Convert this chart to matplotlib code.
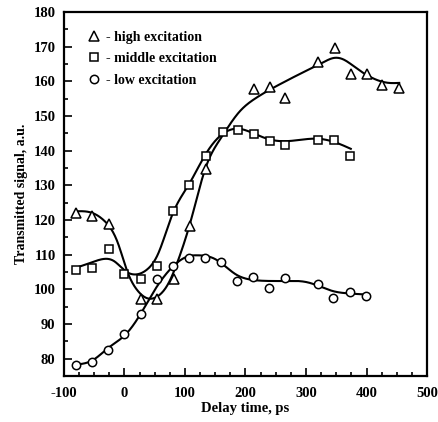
import numpy as np
import matplotlib
matplotlib.use("Agg")
import matplotlib.pyplot as plt
from matplotlib.ticker import MultipleLocator

# measured points
hi_x = [-80, -53, -26, 27, 53, 82, 108, 134, 214, 240, 266, 320, 348, 374, 400, 426, 453]
hi_y = [122.1, 121.2, 118.9, 97.3, 97.1, 103.0, 118.3, 134.7, 157.7, 158.3, 155.2,
        165.6, 169.5, 162.2, 162.0, 159.0, 157.9]

mid_x = [-80, -53, -26, 0, 28, 53, 80, 107, 134, 162, 188, 214, 240, 266, 320, 346, 373]
mid_y = [105.7, 106.2, 111.6, 104.3, 103.1, 106.6, 122.6, 130.2, 138.4, 145.4, 145.8,
         144.8, 142.8, 141.7, 142.9, 143.0, 138.4]

low_x = [-80, -53, -27, 0, 27, 53, 80, 107, 133, 160, 186, 213, 239, 266, 319, 345, 373, 399]
low_y = [78.1, 79.1, 82.5, 87.0, 92.8, 103.0, 106.8, 109.1, 109.0, 108.0, 102.5, 103.6,
         100.3, 103.2, 101.4, 97.5, 99.2, 98.1]

# guide curves
hi_cx = [-80, -53, -33, -11, 5, 20, 38, 55, 72, 90, 110, 134, 159, 189, 216,
         261, 305, 327, 346, 360, 382, 415, 437, 454]
hi_cy = [122.5, 122.0, 119.7, 113.4, 105.0, 100.0, 97.4, 98.0, 101.5, 109.0, 120.0,
         135.0, 143.5, 151.0, 155.0, 159.5, 163.4, 165.3, 166.7, 166.4, 163.9,
         160.5, 159.5, 159.5]

mid_cx = [-80, -55, -39, -17, 2, 20, 38, 55, 79, 107, 134, 160, 187, 214, 240,
          266, 320, 346, 374]
mid_cy = [106.2, 107.7, 108.6, 108.1, 105.2, 104.3, 105.8, 110.0, 121.5, 130.4,
          138.9, 144.5, 146.3, 144.9, 143.2, 142.7, 143.4, 142.5, 140.5]

low_cx = [-80, -53, -26, 2, 27, 50, 82, 107, 120, 151, 184, 212, 239, 266, 300,
          322, 344, 371, 399]
low_cy = [78.3, 79.5, 83.2, 87.0, 93.0, 99.8, 106.9, 109.6, 109.8, 108.6, 104.3,
          102.7, 102.4, 102.4, 102.1, 100.9, 99.5, 98.8, 98.5]


def smooth_line(xk, yk, n=500):
    # natural cubic spline through the read-off knots, only for drawing
    xk = np.asarray(xk, float)
    yk = np.asarray(yk, float)
    k = len(xk)
    h = np.diff(xk)
    A = np.zeros((k, k))
    b = np.zeros(k)
    A[0, 0] = A[-1, -1] = 1
    for i in range(1, k - 1):
        A[i, i - 1] = h[i - 1]
        A[i, i] = 2 * (h[i - 1] + h[i])
        A[i, i + 1] = h[i]
        b[i] = 6 * ((yk[i + 1] - yk[i]) / h[i] - (yk[i] - yk[i - 1]) / h[i - 1])
    M = np.linalg.solve(A, b)
    xs = np.linspace(xk[0], xk[-1], n)
    j = np.clip(np.searchsorted(xk, xs) - 1, 0, k - 2)
    a = xk[j + 1] - xs
    c = xs - xk[j]
    hj = h[j]
    ys = (M[j] * a**3 / (6 * hj) + M[j + 1] * c**3 / (6 * hj)
          + (yk[j] / hj - M[j] * hj / 6) * a + (yk[j + 1] / hj - M[j + 1] * hj / 6) * c)
    return xs, ys


plt.rcParams["font.family"] = "Liberation Serif"
plt.rcParams["font.weight"] = "bold"
plt.rcParams["axes.unicode_minus"] = False

fig = plt.figure(figsize=(4.38, 4.22), dpi=100)
ax = fig.add_axes([0.146, 0.109, 0.829, 0.863])

for cx, cy in [(hi_cx, hi_cy), (mid_cx, mid_cy), (low_cx, low_cy)]:
    xs, ys = smooth_line(cx, cy)
    ax.plot(xs, ys, color="black", lw=1.5)

mk = dict(linestyle="none", mfc="white", mec="black", mew=1.1, color="black")
ax.plot(hi_x, hi_y, marker="^", ms=6.5, label="- high excitation", **mk)
ax.plot(mid_x, mid_y, marker="s", ms=5.2, label="- middle excitation", **mk)
ax.plot(low_x, low_y, marker="o", ms=6, label="- low excitation", **mk)

ax.set_xlim(-100, 500)
ax.set_ylim(75, 180)
ax.xaxis.set_major_locator(MultipleLocator(100))
ax.xaxis.set_minor_locator(MultipleLocator(25))
ax.yaxis.set_major_locator(MultipleLocator(10))
ax.yaxis.set_minor_locator(MultipleLocator(5))
ax.tick_params(which="both", direction="in", top=False, right=False, labelsize=10.5, width=1.2)
ax.tick_params(which="major", length=6)
ax.tick_params(which="minor", length=3)
ax.tick_params(axis="x", which="major", pad=8)
ax.tick_params(axis="y", which="major", pad=6)
for s in ax.spines.values():
    s.set_linewidth(1.6)

ax.set_xlabel("Delay time, ps", fontsize=10.5, fontweight="bold", labelpad=1)
ax.set_ylabel("Transmitted signal, a.u.", fontsize=10, fontweight="bold", labelpad=4)

ax.legend(loc="upper left", bbox_to_anchor=(0.04, 0.974), frameon=False, fontsize=10,
          handlelength=0.8, handletextpad=0.5, labelspacing=0.6, borderaxespad=0.3)

fig.savefig("out.png", dpi=100)
